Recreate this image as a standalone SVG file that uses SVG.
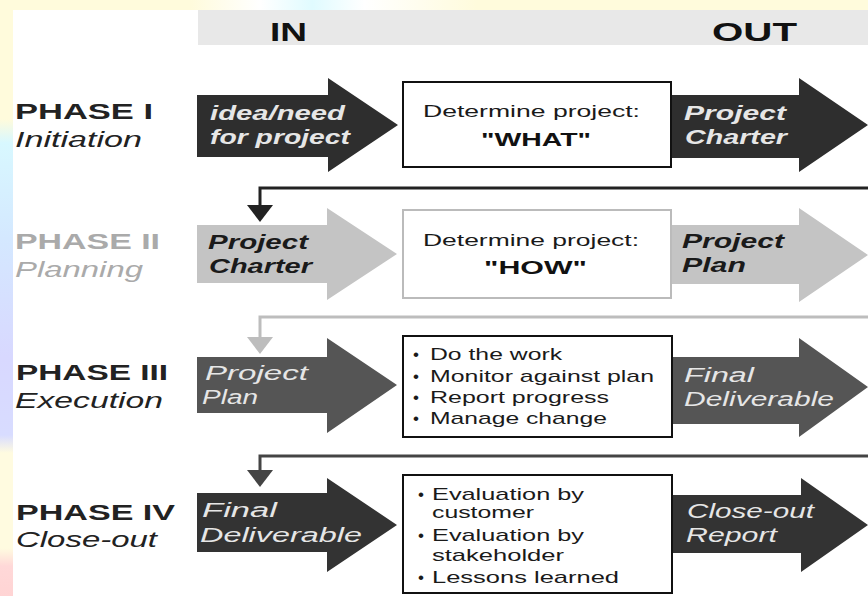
<svg xmlns="http://www.w3.org/2000/svg" width="868" height="596" viewBox="0 0 868 596">
<style>
text{font-family:"Liberation Sans",Arial,sans-serif}
.hdr{font-size:26px;font-weight:bold;fill:#111}
.ph{font-size:22px;font-weight:bold;fill:#222}
.sub{font-size:22px;font-style:italic;fill:#222}
.at{font-size:20px;font-style:italic;font-weight:bold}
.an{font-size:20px;font-style:italic}
.lt{fill:#e6e6e6}
.dk{fill:#1a1a1a}
.bx{font-size:17px;fill:#1a1a1a}
.bxb{font-size:19px;font-weight:bold;fill:#111}
.box{fill:#fff;stroke-width:2}
</style>
<defs>
<linearGradient id="lg" x1="0" y1="0" x2="0" y2="1">
<stop offset="0" stop-color="#fffbdc"/>
<stop offset="0.2" stop-color="#fffbdc"/>
<stop offset="0.24" stop-color="#d8f8ff"/>
<stop offset="0.4" stop-color="#d4e8ff"/>
<stop offset="0.6" stop-color="#d8d8ff"/>
<stop offset="0.73" stop-color="#d8dcff"/>
<stop offset="0.76" stop-color="#fffbe0"/>
<stop offset="0.92" stop-color="#fffbe0"/>
<stop offset="0.95" stop-color="#ffd8d8"/>
<stop offset="1" stop-color="#ffd4d4"/>
</linearGradient>
<linearGradient id="tg" x1="0" y1="0" x2="1" y2="0">
<stop offset="0" stop-color="#fffbdc"/>
<stop offset="0.22" stop-color="#fffbdc"/>
<stop offset="0.3" stop-color="#ffffff"/>
<stop offset="0.36" stop-color="#e0fbff"/>
<stop offset="0.42" stop-color="#ffffff"/>
<stop offset="0.55" stop-color="#fffbdc"/>
<stop offset="1" stop-color="#fffbdc"/>
</linearGradient>
<marker id="m1" markerUnits="userSpaceOnUse" viewBox="0 0 17 26" refX="0" refY="13" markerWidth="17" markerHeight="26" orient="auto"><path d="M0,0 L17,13 L0,26 z" fill="#222"/></marker>
<marker id="m2" markerUnits="userSpaceOnUse" viewBox="0 0 17 26" refX="0" refY="13" markerWidth="17" markerHeight="26" orient="auto"><path d="M0,0 L17,13 L0,26 z" fill="#bdbdbd"/></marker>
<marker id="m3" markerUnits="userSpaceOnUse" viewBox="0 0 17 26" refX="0" refY="13" markerWidth="17" markerHeight="26" orient="auto"><path d="M0,0 L17,13 L0,26 z" fill="#444"/></marker>
</defs>
<rect width="868" height="596" fill="#fff"/>
<rect x="0" y="0" width="868" height="10" fill="url(#tg)"/>
<rect x="0" y="0" width="13" height="596" fill="url(#lg)"/>
<g id="header">
<rect x="198" y="10" width="670" height="35" fill="#e8e8e8"/>
<text class="hdr" x="270" y="41" textLength="37" lengthAdjust="spacingAndGlyphs">IN</text>
<text class="hdr" x="712" y="41" textLength="85" lengthAdjust="spacingAndGlyphs">OUT</text>
</g>
<g id="phase-labels">
<text class="ph" x="15" y="119" textLength="138" lengthAdjust="spacingAndGlyphs">PHASE I</text>
<text class="sub" x="15" y="147" textLength="127" lengthAdjust="spacingAndGlyphs">Initiation</text>
<text class="ph" x="15" y="249" textLength="145" lengthAdjust="spacingAndGlyphs" style="fill:#aaa">PHASE II</text>
<text class="sub" x="15" y="277" textLength="128" lengthAdjust="spacingAndGlyphs" style="fill:#aaa">Planning</text>
<text class="ph" x="16" y="380" textLength="152" lengthAdjust="spacingAndGlyphs">PHASE III</text>
<text class="sub" x="15" y="408" textLength="148" lengthAdjust="spacingAndGlyphs">Execution</text>
<text class="ph" x="16" y="520" textLength="159" lengthAdjust="spacingAndGlyphs">PHASE IV</text>
<text class="sub" x="16" y="547" textLength="141" lengthAdjust="spacingAndGlyphs">Close-out</text>
</g>
<g id="connectors" fill="none" stroke-width="3">
<path d="M868,188 H260 V205" stroke="#222" marker-end="url(#m1)"/>
<path d="M868,317 H260 V337" stroke="#bdbdbd" marker-end="url(#m2)"/>
<path d="M868,456 H260 V470" stroke="#444" marker-end="url(#m3)"/>
</g>
<g id="in1">
<polygon points="197,95 328,95 328,78 398,125 328,172 328,157 197,157" fill="#2e2e2e"/>
<text class="at lt" x="210" y="120" textLength="135" lengthAdjust="spacingAndGlyphs">idea/need</text>
<text class="at lt" x="210" y="144" textLength="140" lengthAdjust="spacingAndGlyphs">for project</text>
</g>
<g id="out1">
<polygon points="671,95 799,95 799,78 868,125 799,172 799,158 671,158" fill="#2e2e2e"/>
<text class="at lt" x="684" y="120" textLength="102" lengthAdjust="spacingAndGlyphs">Project</text>
<text class="at lt" x="685" y="144" textLength="102" lengthAdjust="spacingAndGlyphs">Charter</text>
</g>
<g id="box1">
<rect class="box" x="403" y="82" width="268" height="85" stroke="#111"/>
<text class="bx" x="423" y="117" textLength="217" lengthAdjust="spacingAndGlyphs">Determine project:</text>
<text class="bxb" x="481" y="146" textLength="110" lengthAdjust="spacingAndGlyphs">"WHAT"</text>
</g>
<g id="in2">
<polygon points="197,225 327,225 327,208 397,254 327,300 327,283 197,283" fill="#c4c4c4"/>
<text class="at dk" x="208" y="249" textLength="100" lengthAdjust="spacingAndGlyphs">Project</text>
<text class="at dk" x="209" y="273" textLength="103" lengthAdjust="spacingAndGlyphs">Charter</text>
</g>
<g id="out2">
<polygon points="671,225 799,225 799,208 868,255 799,302 799,284 671,284" fill="#c4c4c4"/>
<text class="at dk" x="682" y="248" textLength="102" lengthAdjust="spacingAndGlyphs">Project</text>
<text class="at dk" x="682" y="272" textLength="64" lengthAdjust="spacingAndGlyphs">Plan</text>
</g>
<g id="box2">
<rect class="box" x="403" y="210" width="268" height="88" stroke="#bbb"/>
<text class="bx" x="423" y="246" textLength="216" lengthAdjust="spacingAndGlyphs">Determine project:</text>
<text class="bxb" x="484" y="274" textLength="103" lengthAdjust="spacingAndGlyphs">"HOW"</text>
</g>
<g id="in3">
<polygon points="197,357 327,357 327,338 397,385 327,433 327,413 197,413" fill="#555"/>
<text class="an lt" x="205" y="380" textLength="103" lengthAdjust="spacingAndGlyphs">Project</text>
<text class="an lt" x="202" y="404" textLength="56" lengthAdjust="spacingAndGlyphs">Plan</text>
</g>
<g id="out3">
<polygon points="672,357 799,357 799,338 868,387 799,437 799,424 672,424" fill="#555"/>
<text class="an lt" x="684" y="382" textLength="70" lengthAdjust="spacingAndGlyphs">Final</text>
<text class="an lt" x="684" y="406" textLength="150" lengthAdjust="spacingAndGlyphs">Deliverable</text>
</g>
<g id="box3">
<rect class="box" x="403" y="336" width="269" height="101" stroke="#111"/>
<text class="bx" x="413" y="360">•</text>
<text class="bx" x="430" y="360" textLength="132" lengthAdjust="spacingAndGlyphs">Do the work</text>
<text class="bx" x="413" y="382">•</text>
<text class="bx" x="430" y="382" textLength="224" lengthAdjust="spacingAndGlyphs">Monitor against plan</text>
<text class="bx" x="413" y="403">•</text>
<text class="bx" x="430" y="403" textLength="179" lengthAdjust="spacingAndGlyphs">Report progress</text>
<text class="bx" x="413" y="424">•</text>
<text class="bx" x="430" y="424" textLength="177" lengthAdjust="spacingAndGlyphs">Manage change</text>
</g>
<g id="in4">
<polygon points="197,493 327,493 327,478 397,525 327,572 327,552 197,552" fill="#333"/>
<text class="an lt" x="202" y="517" textLength="75" lengthAdjust="spacingAndGlyphs">Final</text>
<text class="an lt" x="200" y="542" textLength="162" lengthAdjust="spacingAndGlyphs">Deliverable</text>
</g>
<g id="out4">
<polygon points="672,495 801,495 801,478 868,525 801,572 801,553 672,553" fill="#333"/>
<text class="an lt" x="687" y="518" textLength="127" lengthAdjust="spacingAndGlyphs">Close-out</text>
<text class="an lt" x="686" y="542" textLength="91" lengthAdjust="spacingAndGlyphs">Report</text>
</g>
<g id="box4">
<rect class="box" x="403" y="475" width="269" height="118" stroke="#111"/>
<text class="bx" x="418" y="500">•</text>
<text class="bx" x="432" y="500" textLength="152" lengthAdjust="spacingAndGlyphs">Evaluation by</text>
<text class="bx" x="432" y="518" textLength="102" lengthAdjust="spacingAndGlyphs">customer</text>
<text class="bx" x="418" y="541">•</text>
<text class="bx" x="432" y="541" textLength="152" lengthAdjust="spacingAndGlyphs">Evaluation by</text>
<text class="bx" x="432" y="561" textLength="132" lengthAdjust="spacingAndGlyphs">stakeholder</text>
<text class="bx" x="418" y="583">•</text>
<text class="bx" x="432" y="583" textLength="187" lengthAdjust="spacingAndGlyphs">Lessons learned</text>
</g>
</svg>
